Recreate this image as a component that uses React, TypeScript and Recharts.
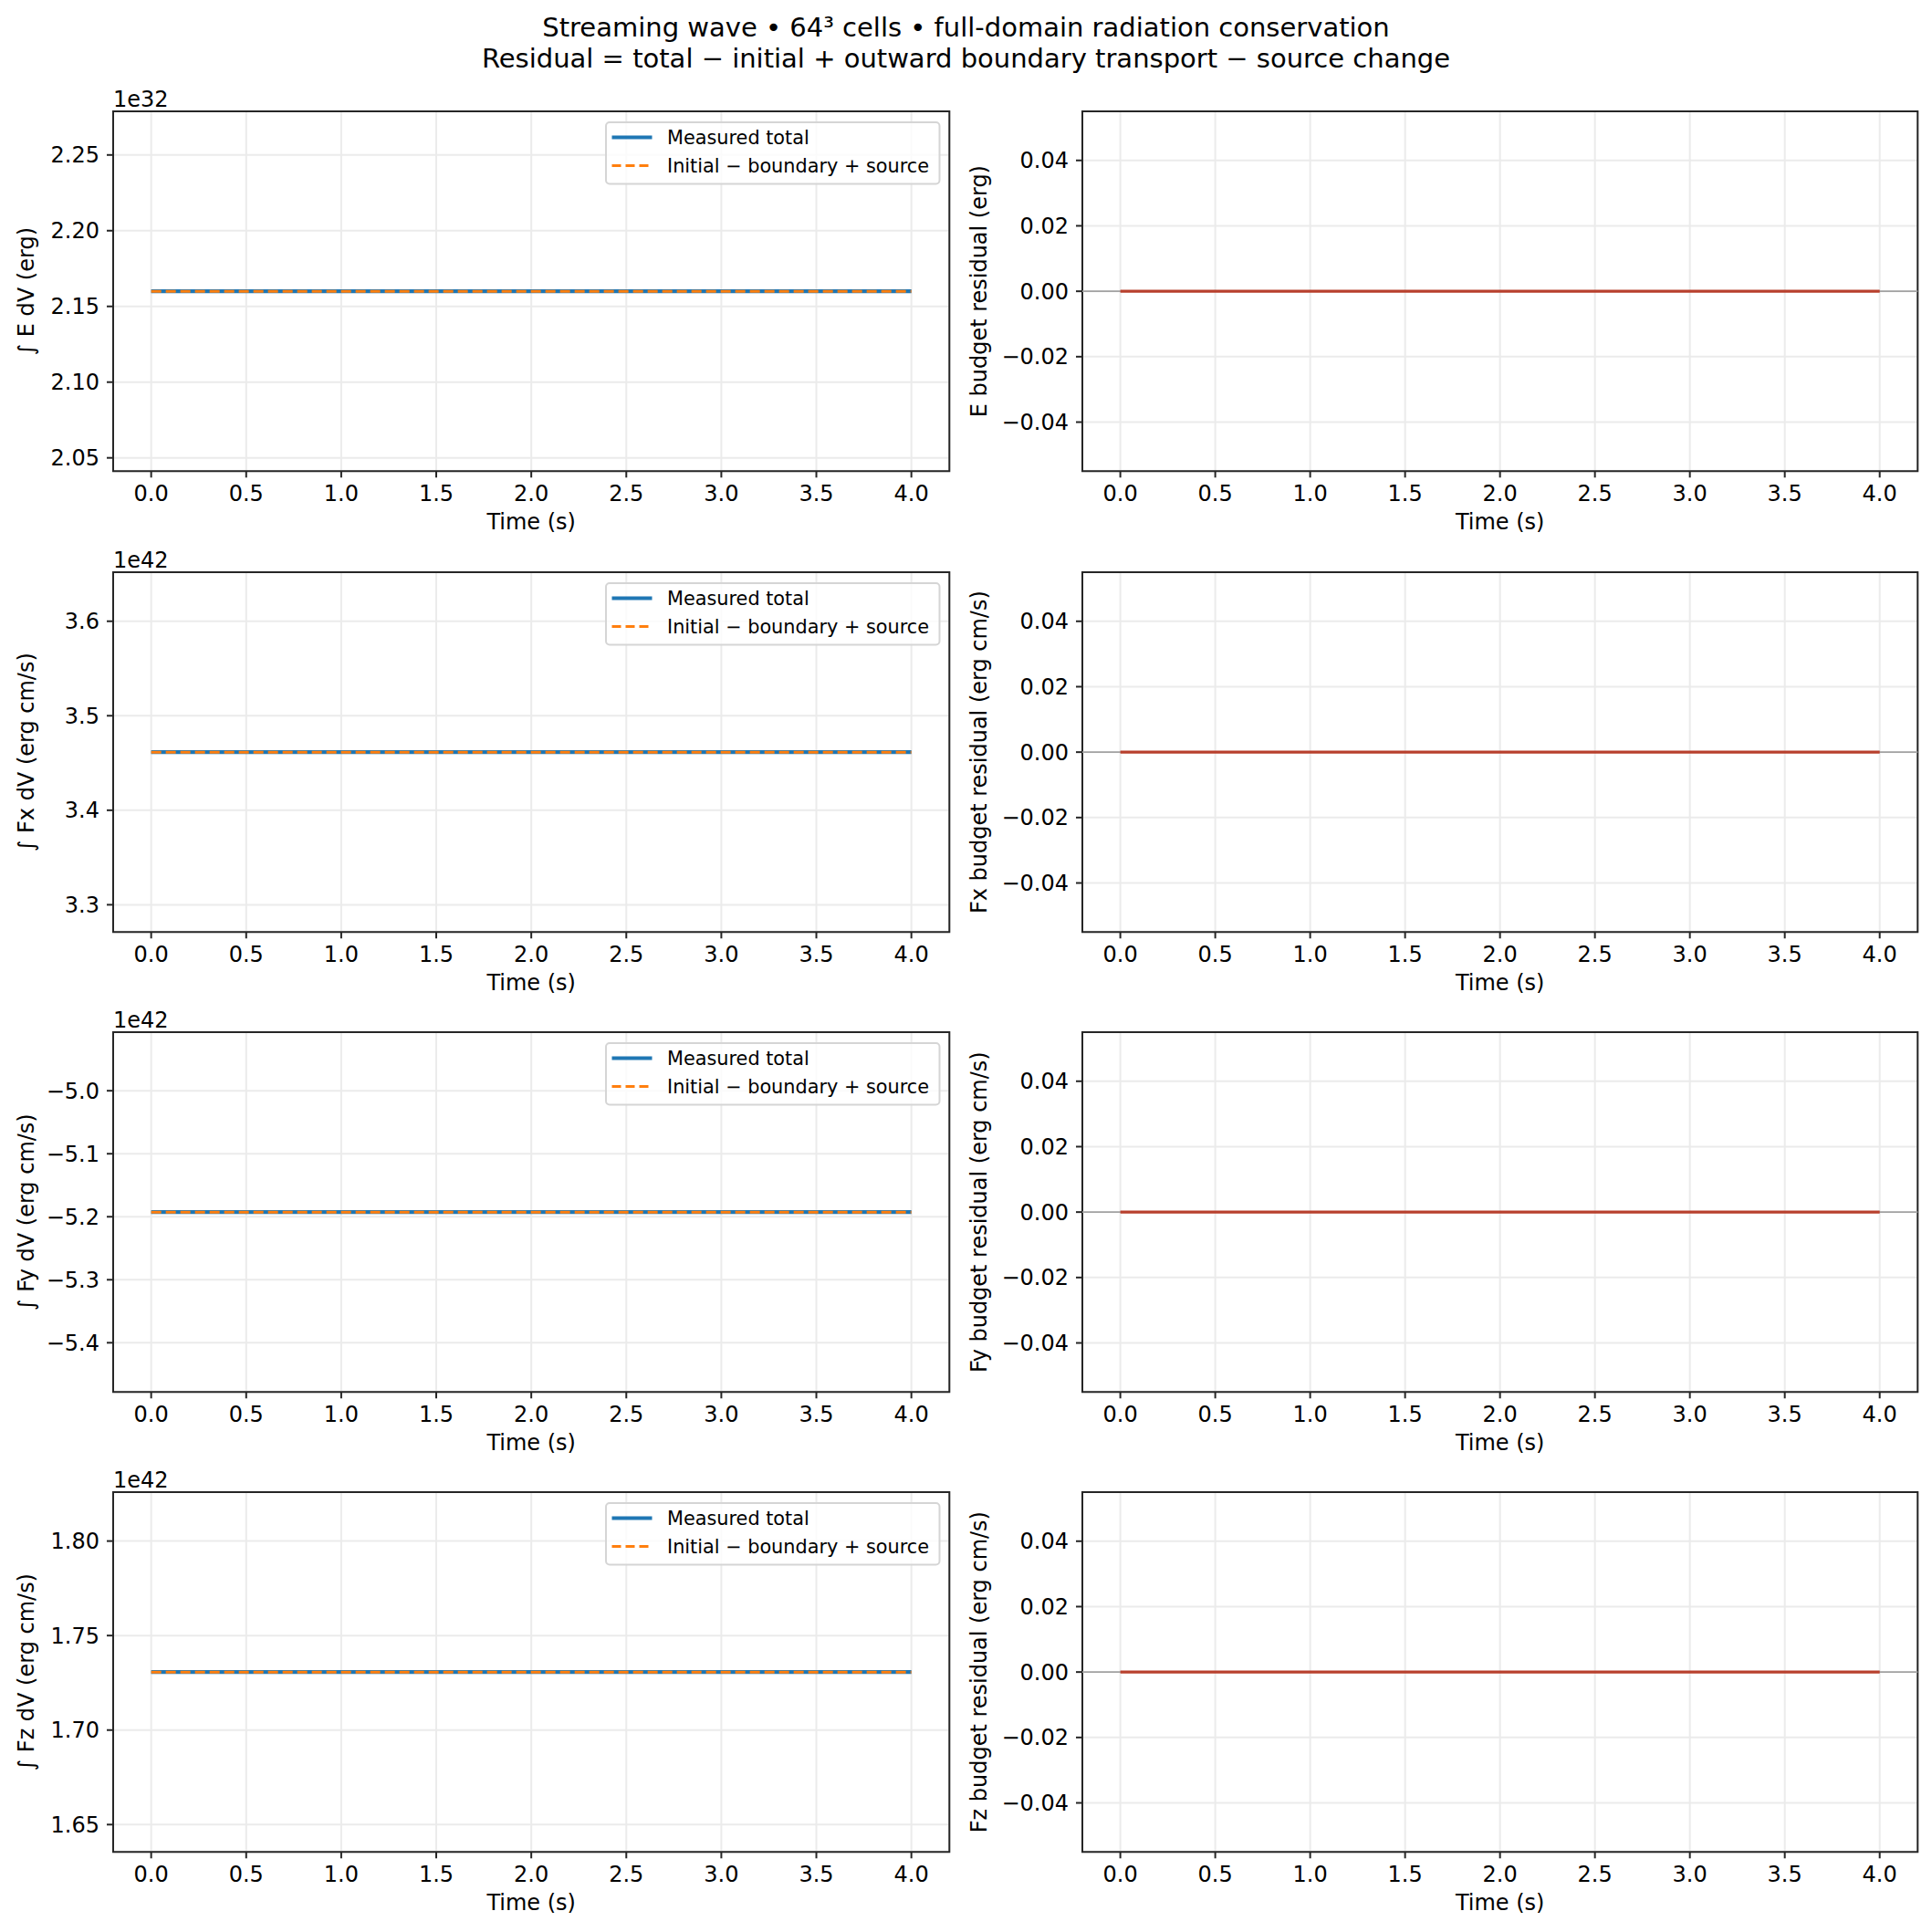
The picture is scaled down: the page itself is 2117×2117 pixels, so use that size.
import React from 'react';
import {
  LineChart,
  Line,
  XAxis,
  YAxis,
  CartesianGrid,
  ReferenceLine,
  ReferenceArea,
  Legend,
} from 'recharts';

// ---------------- data ----------------
const TIME = [0, 0.5, 1.0, 1.5, 2.0, 2.5, 3.0, 3.5, 4.0];
const X_TICKS = [0, 0.5, 1.0, 1.5, 2.0, 2.5, 3.0, 3.5, 4.0];

const E_MEASURED = [2.16, 2.16, 2.16, 2.16, 2.16, 2.16, 2.16, 2.16, 2.16];
const E_PREDICTED = [2.16, 2.16, 2.16, 2.16, 2.16, 2.16, 2.16, 2.16, 2.16];
const FX_MEASURED = [3.4615, 3.4615, 3.4615, 3.4615, 3.4615, 3.4615, 3.4615, 3.4615, 3.4615];
const FX_PREDICTED = [3.4615, 3.4615, 3.4615, 3.4615, 3.4615, 3.4615, 3.4615, 3.4615, 3.4615];
const FY_MEASURED = [-5.1926, -5.1926, -5.1926, -5.1926, -5.1926, -5.1926, -5.1926, -5.1926, -5.1926];
const FY_PREDICTED = [-5.1926, -5.1926, -5.1926, -5.1926, -5.1926, -5.1926, -5.1926, -5.1926, -5.1926];
const FZ_MEASURED = [1.7307, 1.7307, 1.7307, 1.7307, 1.7307, 1.7307, 1.7307, 1.7307, 1.7307];
const FZ_PREDICTED = [1.7307, 1.7307, 1.7307, 1.7307, 1.7307, 1.7307, 1.7307, 1.7307, 1.7307];

const E_RESIDUAL = [0, 0, 0, 0, 0, 0, 0, 0, 0];
const FX_RESIDUAL = [0, 0, 0, 0, 0, 0, 0, 0, 0];
const FY_RESIDUAL = [0, 0, 0, 0, 0, 0, 0, 0, 0];
const FZ_RESIDUAL = [0, 0, 0, 0, 0, 0, 0, 0, 0];

const E_TICKS = [2.05, 2.1, 2.15, 2.2, 2.25];
const FX_TICKS = [3.3, 3.4, 3.5, 3.6];
const FY_TICKS = [-5.4, -5.3, -5.2, -5.1, -5.0];
const FZ_TICKS = [1.65, 1.7, 1.75, 1.8];
const RES_TICKS = [-0.04, -0.02, 0, 0.02, 0.04];

const LEFT_LABELS = ['\u222B E dV (erg)', '\u222B Fx dV (erg cm/s)', '\u222B Fy dV (erg cm/s)', '\u222B Fz dV (erg cm/s)'];
const RIGHT_LABELS = [
  'E budget residual (erg)',
  'Fx budget residual (erg cm/s)',
  'Fy budget residual (erg cm/s)',
  'Fz budget residual (erg cm/s)',
];
const OFFSET_TEXTS = ['1e32', '1e42', '1e42', '1e42'];
const TITLE_LINES = [
  'Streaming wave \u2022 64\u00B3 cells \u2022 full-domain radiation conservation',
  'Residual = total \u2212 initial + outward boundary transport \u2212 source change',
];
const LEGEND_LABELS = ['Measured total', 'Initial \u2212 boundary + source'];

// ---------------- layout ----------------
const FONT = 'DejaVu Sans';
const COL_LEFT = [123.7, 1185.7];
const COL_W = [916.3, 915.3];
const ROW_TOP = [121.7, 626.9, 1130.7, 1634.7];
const AX_H = 394.3;
const ML = 130;
const MT = 40;
const MR = 10;
const XH = 80;
const SPINE = '#262626';
const BLUE = '#1f77b4';
const ORANGE = '#ff7f0e';
const RED = '#b8402d';

const fmt = (dec: number) => (v: number) => v.toFixed(dec).replace('-', '\u2212');

function LegendBox() {
  return (
    <svg width={368} height={70} style={{ display: 'block' }}>
      <rect x={1} y={1} width={365.5} height={67.5} rx={4} ry={4} fill="#ffffff" fillOpacity={0.8} stroke="#d5d5d5" strokeWidth={2} />
      <line x1={7.5} x2={51.5} y1={17.5} y2={17.5} stroke={BLUE} strokeWidth={4} />
      <text x={68} y={25} fontSize={20.8} fontFamily={FONT} fill="#000">{LEGEND_LABELS[0]}</text>
      <line x1={7.5} x2={51.5} y1={48.5} y2={48.5} stroke={ORANGE} strokeWidth={3} strokeDasharray="10 5" />
      <text x={68} y={56} fontSize={20.8} fontFamily={FONT} fill="#000">{LEGEND_LABELS[1]}</text>
    </svg>
  );
}

type PanelProps = {
  left: number;
  top: number;
  width: number;
  data: any[];
  kind: 'total' | 'residual';
  yDomain: [number, number];
  yTicks: number[];
  yDec: number;
  yLabel: string;
  labelOffset: number;
  offsetText?: string;
};

function Panel(p: PanelProps) {
  const W = ML + p.width + MR;
  const H = MT + AX_H + XH;
  const yLabelContent = () => (
    <g>
      <text
        x={ML + p.labelOffset}
        y={MT + AX_H / 2}
        transform={`rotate(-90, ${ML + p.labelOffset}, ${MT + AX_H / 2})`}
        textAnchor="middle"
        dy="0.36em"
        fontSize={24}
        fontFamily={FONT}
        fill="#000"
      >
        {p.yLabel}
      </text>
      {p.offsetText ? (
        <text x={ML} y={MT - 5} fontSize={24} fontFamily={FONT} fill="#000">
          {p.offsetText}
        </text>
      ) : null}
    </g>
  );
  const xLabelContent = () => (
    <text x={ML + p.width / 2} y={MT + AX_H + 64} textAnchor="middle" fontSize={24} fontFamily={FONT} fill="#000">
      Time (s)
    </text>
  );
  return (
    <div style={{ position: 'absolute', left: p.left - ML, top: p.top - MT, width: W, height: H }}>
      <LineChart width={W} height={H} data={p.data} margin={{ top: MT, right: MR, left: 0, bottom: 0 }}>
        <CartesianGrid stroke="#ebebeb" strokeWidth={2} />
        <XAxis
          type="number"
          dataKey="t"
          domain={[-0.2, 4.2]}
          ticks={X_TICKS}
          allowDataOverflow
          height={XH}
          axisLine={false}
          tickLine={{ stroke: SPINE, strokeWidth: 2 }}
          tickSize={7}
          tickMargin={9}
          tickFormatter={fmt(1)}
          tick={{ fontSize: 24, fontFamily: FONT, fill: '#000' }}
          interval={0}
          label={xLabelContent}
        />
        <YAxis
          type="number"
          domain={p.yDomain}
          ticks={p.yTicks}
          allowDataOverflow
          width={ML}
          axisLine={false}
          tickLine={{ stroke: SPINE, strokeWidth: 2 }}
          tickSize={7}
          tickMargin={8}
          tickFormatter={fmt(p.yDec)}
          tick={{ fontSize: 24, fontFamily: FONT, fill: '#000' }}
          interval={0}
          label={yLabelContent}
        />
        {p.kind === 'residual' ? (
          <ReferenceLine y={0} stroke="#a3a3a3" strokeWidth={1.8} />
        ) : null}
        {p.kind === 'total' ? (
          <Line type="linear" dataKey="measured" stroke={BLUE} strokeWidth={4.2} dot={false} isAnimationActive={false} />
        ) : null}
        {p.kind === 'total' ? (
          <Line
            type="linear"
            dataKey="predicted"
            stroke={ORANGE}
            strokeWidth={3}
            strokeDasharray="11 5"
            dot={false}
            isAnimationActive={false}
          />
        ) : null}
        {p.kind === 'residual' ? (
          <Line type="linear" dataKey="residual" stroke={RED} strokeWidth={3.4} dot={false} isAnimationActive={false} />
        ) : null}
        <ReferenceArea
          x1={-0.2}
          x2={4.2}
          y1={p.yDomain[0]}
          y2={p.yDomain[1]}
          fill="none"
          fillOpacity={0}
          stroke={SPINE}
          strokeWidth={2}
          ifOverflow="visible"
        />
        {p.kind === 'total' ? (
          <Legend
            layout="horizontal"
            verticalAlign="middle"
            align="center"
            content={() => <LegendBox />}
            wrapperStyle={{
              position: 'absolute',
              left: ML + 539,
              top: MT + 11,
              width: 368,
              height: 70,
              margin: 0,
              padding: 0,
              lineHeight: 0,
            }}
          />
        ) : null}
      </LineChart>
    </div>
  );
}

const autoDomain = (v: number): [number, number] => [v - 0.055 * Math.abs(v), v + 0.055 * Math.abs(v)];
const RES_DOMAIN: [number, number] = [-0.055, 0.055];

export default function App() {
  const totals = [
    { m: E_MEASURED, p: E_PREDICTED, ticks: E_TICKS, dec: 2 },
    { m: FX_MEASURED, p: FX_PREDICTED, ticks: FX_TICKS, dec: 1 },
    { m: FY_MEASURED, p: FY_PREDICTED, ticks: FY_TICKS, dec: 1 },
    { m: FZ_MEASURED, p: FZ_PREDICTED, ticks: FZ_TICKS, dec: 2 },
  ];
  const residuals = [E_RESIDUAL, FX_RESIDUAL, FY_RESIDUAL, FZ_RESIDUAL];

  return (
    <div
      style={{
        position: 'absolute',
        left: 0,
        top: 0,
        width: 2117,
        height: 2117,
        background: '#ffffff',
        fontFamily: FONT,
      }}
    >
      <svg width={2117} height={90} style={{ position: 'absolute', left: 0, top: 0 }}>
        <text x={1058.5} y={40} textAnchor="middle" fontSize={29} fontFamily={FONT} fill="#000">
          {TITLE_LINES[0]}
        </text>
        <text x={1058.5} y={73.5} textAnchor="middle" fontSize={29} fontFamily={FONT} fill="#000">
          {TITLE_LINES[1]}
        </text>
      </svg>
      {totals.map((s, i) => {
        const data = TIME.map((t, k) => ({ t, measured: s.m[k], predicted: s.p[k] }));
        return (
          <Panel
            key={`l${i}`}
            left={COL_LEFT[0]}
            top={ROW_TOP[i]}
            width={COL_W[0]}
            data={data}
            kind="total"
            yDomain={autoDomain(s.m[0])}
            yTicks={s.ticks}
            yDec={s.dec}
            yLabel={LEFT_LABELS[i]}
            labelOffset={-96}
            offsetText={OFFSET_TEXTS[i]}
          />
        );
      })}
      {residuals.map((r, i) => {
        const data = TIME.map((t, k) => ({ t, residual: r[k] }));
        return (
          <Panel
            key={`r${i}`}
            left={COL_LEFT[1]}
            top={ROW_TOP[i]}
            width={COL_W[1]}
            data={data}
            kind="residual"
            yDomain={RES_DOMAIN}
            yTicks={RES_TICKS}
            yDec={2}
            yLabel={RIGHT_LABELS[i]}
            labelOffset={-114}
          />
        );
      })}
    </div>
  );
}
